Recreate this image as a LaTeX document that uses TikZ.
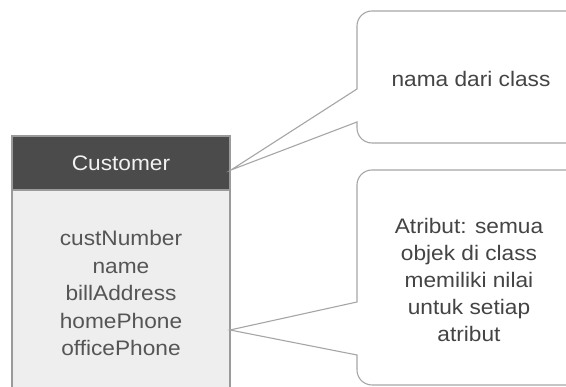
\documentclass[tikz,border=0pt]{standalone}
\usepackage{fontspec}
\setmainfont{Liberation Sans}[FakeStretch=1.08]
\definecolor{hdr}{HTML}{4B4B4B}
\definecolor{bodyfill}{HTML}{EEEEEE}
\definecolor{boxline}{HTML}{9A9A9A}
\definecolor{coline}{HTML}{A6A6A6}
\definecolor{attrtext}{HTML}{555555}
\definecolor{cotext}{HTML}{444444}
\begin{document}
\begin{tikzpicture}[x=1pt,y=1pt,
  headerbox/.style={draw=boxline, line width=1.5pt, fill=hdr, text=white!95!black,
    minimum width=218pt, minimum height=54pt, inner sep=0pt,
    font=\fontsize{21}{27.5}\selectfont},
  bodybox/.style={draw=boxline, line width=1.5pt, fill=bodyfill, text=attrtext,
    minimum width=218pt, minimum height=207pt, inner sep=0pt, align=center,
    font=\fontsize{21}{27.5}\selectfont},
  callout/.style={draw=coline, line width=1.1pt, fill=white, line join=miter},
  cotextnode/.style={text=cotext, align=center, inner sep=0pt,
    font=\fontsize{21}{26.8}\selectfont}]
\useasboundingbox (0,0) rectangle (566,387);
\clip (0,0) rectangle (566,387);
\fill[white] (0,0) rectangle (566,387);
% class box
\node[bodybox] (body) at (121,93.5) {custNumber\\name\\billAddress\\homePhone\\officePhone};
\node[headerbox] (header) at (121,224) {Customer};
% callout tips
\coordinate (tipA) at (231,217);
\coordinate (tipB) at (230,57);
% callout 1
\draw[callout] (357,265) -- (357,259) arc[start angle=180,end angle=270,radius=15pt]
  -- (620,244) -- (620,376) -- (372,376) arc[start angle=90,end angle=180,radius=15pt]
  -- (357,298) -- (tipA) -- cycle;
\node[cotextnode] (nameText) at (471,308) {nama dari class};
% callout 2
\draw[callout] (357,85) -- (357,202) arc[start angle=180,end angle=90,radius=15pt]
  -- (620,217) -- (620,2) -- (372,2) arc[start angle=270,end angle=180,radius=15pt]
  -- (357,32) -- (tipB) -- cycle;
\node[cotextnode] (attrText) at (469,107) {Atribut: semua\\objek di class\\memiliki nilai\\untuk setiap\\atribut};
\end{tikzpicture}
\end{document}
